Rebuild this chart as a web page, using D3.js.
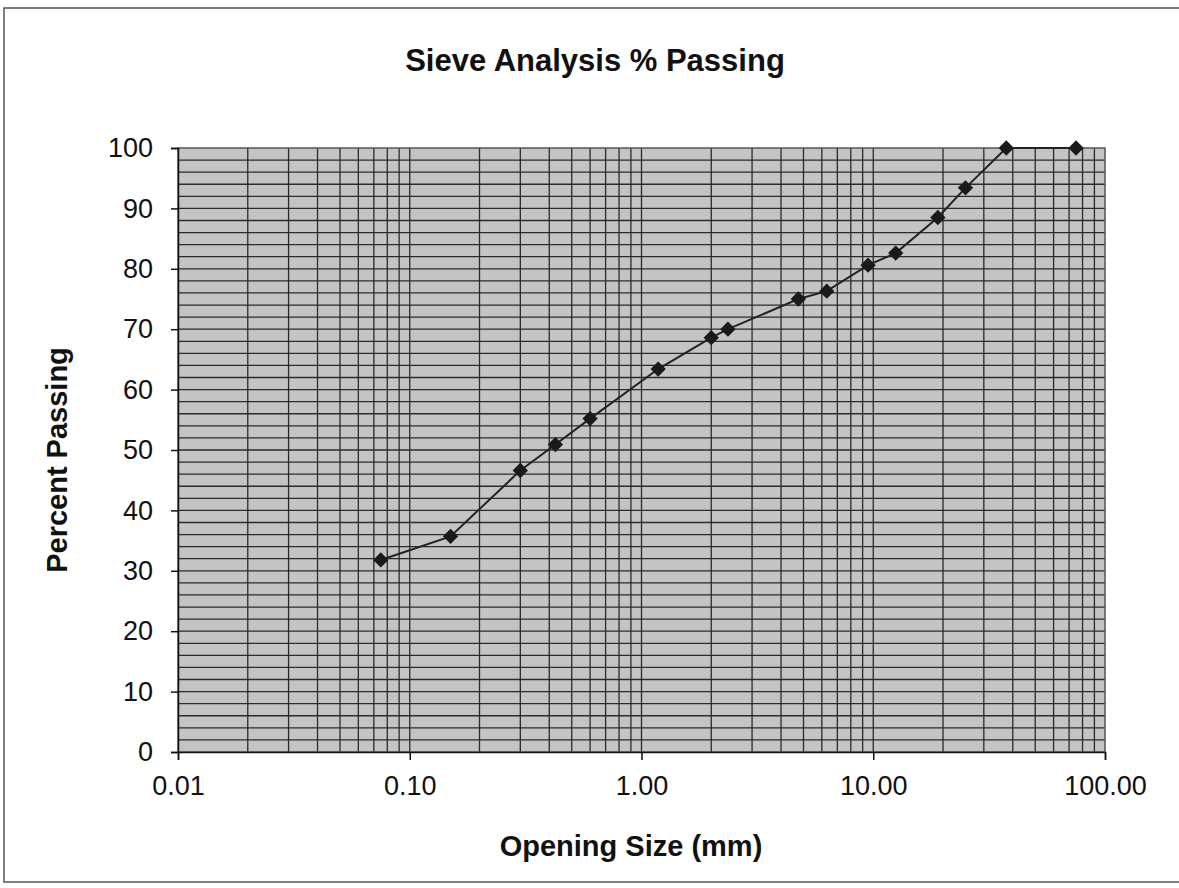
<!DOCTYPE html>
<html>
<head>
<meta charset="utf-8">
<script src="https://cdn.jsdelivr.net/npm/d3@7"></script>
<style>
  body { margin: 0; background: #fff; }
  text { font-family: "Liberation Sans", Arial, sans-serif; fill: #111; }
</style>
</head>
<body>
<svg width="1179" height="888"></svg>
<script>
// sieve openings (mm) and percent passing
const sizes = [0.075, 0.15, 0.3, 0.425, 0.6, 1.18, 2.0, 2.36, 4.75, 6.3, 9.5, 12.5, 19, 25, 37.5, 75];
const passing = [31.8, 35.7, 46.6, 50.9, 55.2, 63.4, 68.6, 70.0, 75.0, 76.3, 80.6, 82.6, 88.5, 93.4, 100, 100];
const xTicks = [0.01, 0.1, 1, 10, 100];
const yTicks = [0, 10, 20, 30, 40, 50, 60, 70, 80, 90, 100];

const svg = d3.select('svg');
const plotL = 178, plotR = 1105, plotT = 148, plotB = 752;

// outer frame
svg.append('rect')
    .attr('x', 4).attr('y', 8)
    .attr('width', 1190).attr('height', 874)
    .attr('fill', 'none')
    .attr('stroke', '#555')
    .attr('stroke-width', 1.5);

const x = d3.scaleLog().domain([0.01, 100]).range([plotL, plotR]);
const y = d3.scaleLinear().domain([0, 100]).range([plotB, plotT]);

svg.append('rect')
    .attr('x', plotL).attr('y', plotT)
    .attr('width', plotR - plotL).attr('height', plotB - plotT)
    .attr('fill', '#c4c4c4');

// horizontal grid every 2 %
const g = svg.append('g');
g.selectAll('.hg')
    .data(d3.range(2, 100, 2))
    .join('line')
    .attr('x1', plotL).attr('x2', plotR)
    .attr('y1', d => y(d)).attr('y2', d => y(d))
    .attr('stroke', '#2a2a2a')
    .attr('stroke-width', 1.3);

// vertical log grid
const vlines = [];
[0.01, 0.1, 1, 10].forEach(dec => {
  for (let k = 1; k <= 9; k++) vlines.push(dec * k);
});
g.selectAll('.vg')
    .data(vlines.filter(v => v > 0.01))
    .join('line')
    .attr('x1', d => x(d)).attr('x2', d => x(d))
    .attr('y1', plotT).attr('y2', plotB)
    .attr('stroke', '#2a2a2a')
    .attr('stroke-width', 1.3);

svg.append('rect')
    .attr('x', plotL).attr('y', plotT)
    .attr('width', plotR - plotL).attr('height', plotB - plotT)
    .attr('fill', 'none')
    .attr('stroke', '#555')
    .attr('stroke-width', 1.5);

// axes
const yAxis = svg.append('g')
    .attr('transform', `translate(${plotL},0)`)
    .call(d3.axisLeft(y).tickValues(yTicks).tickSize(7).tickPadding(18));
const xAxis = svg.append('g')
    .attr('transform', `translate(0,${plotB})`)
    .call(d3.axisBottom(x).tickValues(xTicks).tickSize(8).tickPadding(16)
      .tickFormat(d3.format('.2f')));
[xAxis, yAxis].forEach(a => {
  a.select('.domain').attr('stroke', '#111').attr('stroke-width', 1.5);
  a.selectAll('.tick line').attr('stroke', '#111').attr('stroke-width', 1.5);
  a.selectAll('text').attr('font-size', 27).attr('fill', '#111')
    .attr('font-family', '"Liberation Sans", Arial, sans-serif');
});

// series
const pts = sizes.map((s, i) => [s, passing[i]]);
svg.append('path')
    .datum(pts)
    .attr('d', d3.line().x(d => x(d[0])).y(d => y(d[1])))
    .attr('fill', 'none')
    .attr('stroke', '#222')
    .attr('stroke-width', 2);

svg.selectAll('.pt')
    .data(pts)
    .join('path')
    .attr('transform', d => `translate(${x(d[0])},${y(d[1])})`)
    .attr('d', d3.symbol(d3.symbolDiamond2, 150))
    .attr('fill', '#1a1a1a');

// titles
svg.append('text')
    .attr('x', 595).attr('y', 71)
    .attr('text-anchor', 'middle')
    .attr('font-size', 31).attr('font-weight', 'bold')
    .text('Sieve Analysis % Passing');

svg.append('text')
    .attr('x', 631).attr('y', 856)
    .attr('text-anchor', 'middle')
    .attr('font-size', 29).attr('font-weight', 'bold')
    .text('Opening Size (mm)');

svg.append('text')
    .attr('transform', 'translate(67,460) rotate(-90)')
    .attr('text-anchor', 'middle')
    .attr('font-size', 29).attr('font-weight', 'bold')
    .text('Percent Passing');
</script>
</body>
</html>
